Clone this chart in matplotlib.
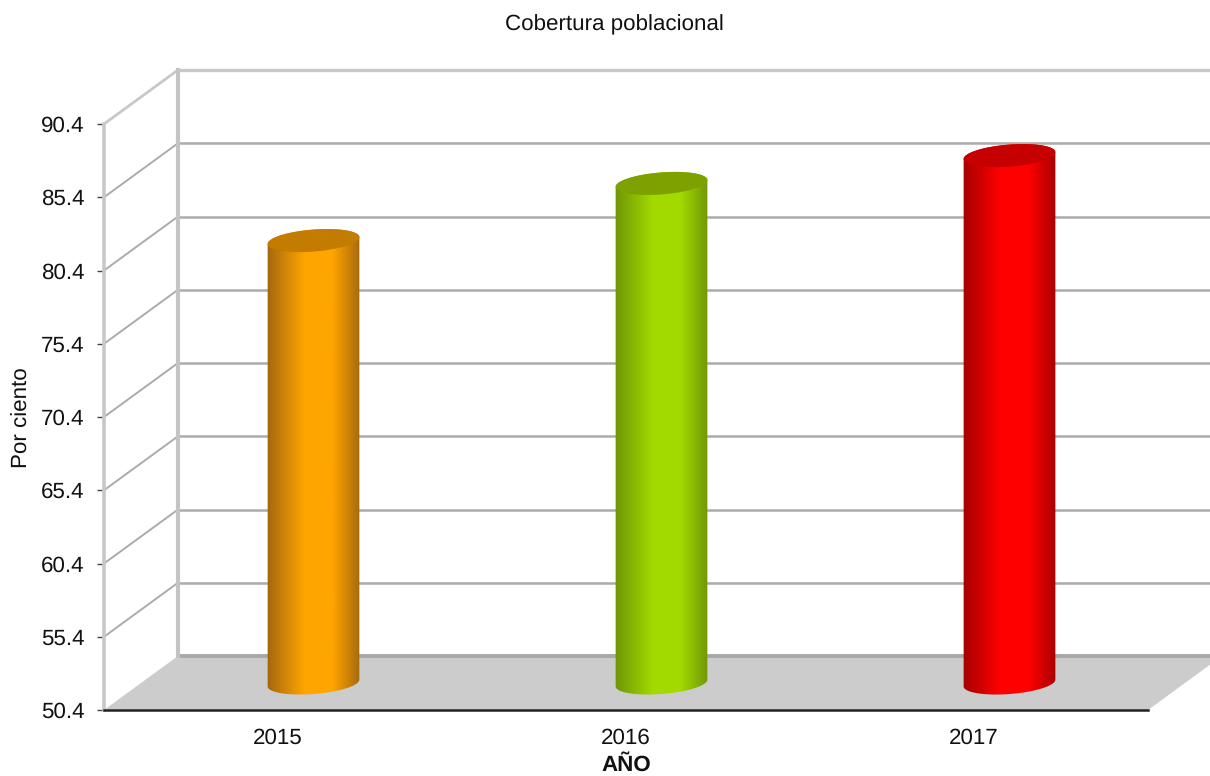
import matplotlib
matplotlib.use("Agg")
import matplotlib.pyplot as plt
import numpy as np
from matplotlib.colors import LinearSegmentedColormap
from matplotlib.patches import Polygon

plt.rcParams['font.family'] = ['Liberation Sans', 'DejaVu Sans']
plt.rcParams['text.hinting'] = 'no_hinting'

years = ['2015', '2016', '2017']
cobertura = [80.6, 84.5, 86.4]
y_ticks = [50.4, 55.4, 60.4, 65.4, 70.4, 75.4, 80.4, 85.4, 90.4]

edge_colors = ['#A5680E', '#6F9606', '#A80000']
mid_colors = ['#FFA500', '#A2DA00', '#FF0000']
top_colors = ['#C47C00', '#7DA200', '#C60000']

W, H = 1210, 776
LEFT, RIGHT, TOP, BOTTOM = 104, 1148, 124, 710
FONT = 16.1

fig = plt.figure(figsize=(W / 100, H / 100), dpi=100)
ax = fig.add_axes([LEFT / W, 1 - BOTTOM / H, (RIGHT - LEFT) / W, (BOTTOM - TOP) / H])
ax.set_xlim(-0.5, 2.5)
ax.set_ylim(y_ticks[0], y_ticks[-1])

# size of one pixel in data units
px_x = 3.0 / (RIGHT - LEFT)
px_y = (y_ticks[-1] - y_ticks[0]) / (BOTTOM - TOP)

# depth of the fake 3d box
depth_x = 74 * px_x
depth_y = 54 * px_y
x0, x1 = ax.get_xlim()
y0 = y_ticks[0]

# floor
ax.add_patch(Polygon([(x0, y0), (x1, y0), (x1 + depth_x, y0 + depth_y), (x0 + depth_x, y0 + depth_y)],
                     closed=True, facecolor='#CCCCCC', edgecolor='none', clip_on=False, zorder=1))

# walls
for t in y_ticks:
    col = '#C8C8C8' if t == y_ticks[-1] else '#ABABAB'
    lw = 2.4 if t == y_ticks[-1] else 1.8
    if t == y_ticks[0]:
        col = '#A8A8A8'
        lw = 2.8
    ax.plot([x0 + depth_x, x1 + depth_x], [t + depth_y, t + depth_y], color=col, lw=lw,
            clip_on=False, zorder=2, solid_capstyle='butt')
    if t != y_ticks[0]:
        ax.plot([x0, x0 + depth_x], [t, t + depth_y], color=col, lw=lw - 0.4, clip_on=False, zorder=2)
ax.plot([x0, x0], [y_ticks[0], y_ticks[-1]], color='#C8C8C8', lw=2.6, clip_on=False, zorder=2)
ax.plot([x0 + depth_x, x0 + depth_x], [y_ticks[0] + depth_y, y_ticks[-1] + depth_y],
        color='#C4C4C4', lw=3, clip_on=False, zorder=2)


def ellipse(cx, cy, t):
    a, b, phi = 46, 11, np.radians(4.5)
    ex = a * np.cos(t) * np.cos(phi) - b * np.sin(t) * np.sin(phi)
    ey = a * np.cos(t) * np.sin(phi) + b * np.sin(t) * np.cos(phi)
    return np.column_stack([cx + ex * px_x, cy + ey * px_y])


# cylinders stand in the middle of the depth
base = y0 + depth_y / 2
upper = np.linspace(0, np.pi, 60)
lower = np.linspace(np.pi, 2 * np.pi, 60)
shade = np.linspace(0, 1, 92)[None, :]
for i, val in enumerate(cobertura):
    cx = i + 35.5 * px_x
    top = val + depth_y / 2
    outline = np.vstack([ellipse(cx, top, upper), ellipse(cx, base, lower)])
    body = Polygon(outline, closed=True, facecolor='none', edgecolor='none', zorder=3)
    ax.add_patch(body)
    cmap = LinearSegmentedColormap.from_list(
        'c', [(0, edge_colors[i]), (0.4, mid_colors[i]), (0.7, mid_colors[i]), (1, edge_colors[i])])
    im = ax.imshow(shade, cmap=cmap, aspect='auto', zorder=4,
                   extent=[cx - 47 * px_x, cx + 47 * px_x, base - 14 * px_y, top + 14 * px_y])
    im.set_clip_path(body)
    ax.add_patch(Polygon(ellipse(cx, top, np.linspace(0, 2 * np.pi, 120)), closed=True,
                         facecolor=top_colors[i], edgecolor='none', zorder=5))

ax.set_xlim(-0.5, 2.5)
ax.set_ylim(y_ticks[0], y_ticks[-1])

for s in ['top', 'right', 'left']:
    ax.spines[s].set_visible(False)
ax.spines['bottom'].set_color('#222222')
ax.spines['bottom'].set_linewidth(1.8)
ax.spines['bottom'].set_zorder(6)
ax.patch.set_alpha(0)

ax.set_xticks(range(len(years)))
ax.set_xticklabels(years)
ax.set_yticks(y_ticks)
ax.set_yticklabels([f'{t:.1f}' for t in y_ticks])
ax.tick_params(axis='x', length=0, labelsize=FONT, pad=13, labelcolor='#111111')
ax.tick_params(axis='y', length=5, width=1, color='#444444', labelsize=FONT, pad=9, labelcolor='#111111')

ax.set_xlabel('AÑO', fontsize=FONT, fontweight='bold', color='#111111')
ax.xaxis.set_label_coords(0.5, -(765 - BOTTOM) / (BOTTOM - TOP))
ax.xaxis.label.set_verticalalignment('center')
ax.set_ylabel('Por ciento', fontsize=FONT, color='#111111')
ax.yaxis.set_label_coords(-(LEFT - 22) / (RIGHT - LEFT), (BOTTOM - 418) / (BOTTOM - TOP))
ax.yaxis.label.set_verticalalignment('center')
ax.text((614 - LEFT) / (RIGHT - LEFT), (BOTTOM - 25) / (BOTTOM - TOP), 'Cobertura poblacional',
        transform=ax.transAxes, ha='center', va='center', fontsize=FONT, color='#111111')

fig.savefig('out.png', dpi=100)
